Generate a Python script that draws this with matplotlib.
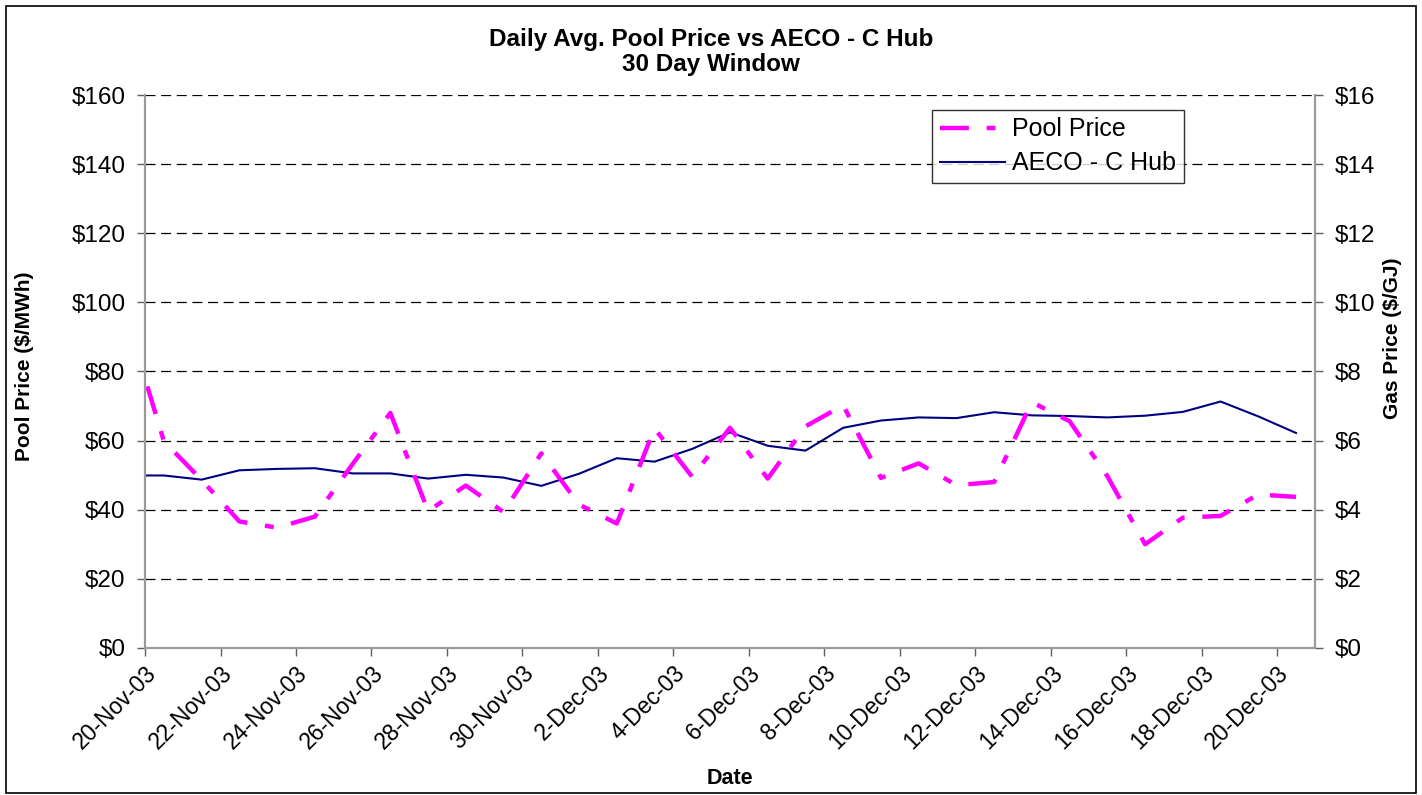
import matplotlib
matplotlib.use("Agg")
import matplotlib.pyplot as plt
import matplotlib.dates as mdates
from matplotlib.ticker import FuncFormatter, MultipleLocator
from matplotlib.patches import Rectangle
import pandas as pd

plt.rcParams["font.family"] = ["Liberation Sans", "DejaVu Sans"]

# daily values, 19-Nov-03 .. 20-Dec-03 (first day only partly visible)
dates = pd.date_range("2003-11-19", "2003-12-20", freq="D")
pool_price = [96.0, 59.8, 48.6, 36.6, 34.8, 38.0, 53.2, 68.0, 39.6, 47.0,
              39.3, 56.3, 41.5, 36.0, 63.5, 49.5, 63.7, 49.0, 64.1, 70.2,
              49.2, 53.4, 47.1, 48.0, 71.1, 65.6, 49.7, 30.0, 37.7, 38.2,
              44.4, 43.7]
aeco_hub = [4.99, 4.99, 4.87, 5.14, 5.18, 5.20, 5.05, 5.05, 4.90, 5.01,
            4.93, 4.69, 5.04, 5.49, 5.39, 5.76, 6.24, 5.85, 5.71, 6.37,
            6.58, 6.67, 6.65, 6.82, 6.73, 6.71, 6.67, 6.72, 6.83, 7.13,
            6.70, 6.22]

# Excel date axis: points sit in the middle of each day
x = dates + pd.Timedelta(hours=12)

fig = plt.figure(figsize=(14.22, 7.95), dpi=100)
ax = fig.add_axes([0.102, 0.185, 0.8227, 0.6955])
ax2 = ax.twinx()

ax.set_zorder(ax2.get_zorder() + 1)
ax.patch.set_visible(False)

l1, = ax.plot(x, pool_price, color="#FF00FF", lw=3.2, dashes=(6.5, 4, 2, 4),
              label="Pool Price")
l2, = ax2.plot(x, aeco_hub, color="#000080", lw=1.5, label="AECO - C Hub")

ax.set_xlim(pd.Timestamp("2003-11-20"), pd.Timestamp("2003-12-21"))
ax.set_ylim(0, 160)
ax2.set_ylim(0, 16)
ax.yaxis.set_major_locator(MultipleLocator(20))
ax2.yaxis.set_major_locator(MultipleLocator(2))
ax.yaxis.set_major_formatter(FuncFormatter(lambda v, p: r"\$%d" % v))
ax2.yaxis.set_major_formatter(FuncFormatter(lambda v, p: r"\$%d" % v))

ax.xaxis.set_major_locator(mdates.DayLocator(interval=2))
ax.xaxis.set_major_formatter(FuncFormatter(
    lambda v, p: mdates.num2date(v).strftime("%d-%b-%y").lstrip("0")))
plt.setp(ax.get_xticklabels(), rotation=45, ha="right", rotation_mode="anchor")

ax.grid(axis="y", color="black", ls=(0, (8, 4.5)), lw=0.9)
for a in (ax, ax2):
    for s in a.spines.values():
        s.set_color("#9a9a9a")
        s.set_linewidth(1.5)
    a.spines["top"].set_visible(False)
    a.tick_params(labelcolor="black", labelsize=17.5, length=6, width=1,
                  direction="out", color="#606060", pad=8)
ax.tick_params(axis="x", labelsize=16.5, pad=4)

ax.set_ylabel("Pool Price (\\$/MWh)", fontsize=15, fontweight="bold")
ax2.set_ylabel("Gas Price (\\$/GJ)", fontsize=15, fontweight="bold")
ax.yaxis.set_label_coords(-0.095, 0.51)
ax2.yaxis.set_label_coords(1.058, 0.56)
ax.set_xlabel("Date", fontsize=15.5, fontweight="bold", labelpad=10)

fig.text(0.5, 0.9345, "Daily Avg. Pool Price vs AECO - C Hub\n30 Day Window",
         ha="center", va="center", fontsize=17.5, fontweight="bold",
         linespacing=1.12)

leg = ax.legend(handles=[l1, l2], loc="upper left",
                bbox_to_anchor=(0.673, 0.973), fontsize=18, frameon=True,
                fancybox=False, borderpad=0.3, handlelength=2.6,
                handletextpad=0.3, labelspacing=0.4, borderaxespad=0)
leg.get_frame().set_edgecolor("black")
leg.get_frame().set_linewidth(1)

fig.patches.append(Rectangle((0.004, 0.003), 0.992, 0.99, transform=fig.transFigure,
                             fill=False, edgecolor="black", lw=1.2))

fig.savefig("out.png", dpi=100)
